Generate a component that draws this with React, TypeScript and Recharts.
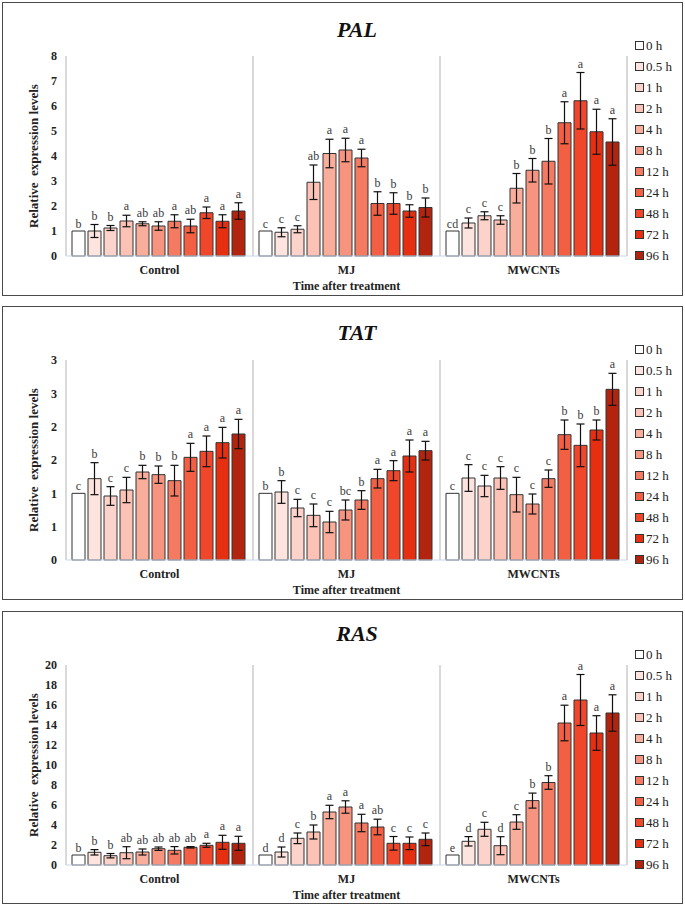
import React from "react";
import { BarChart, Bar, XAxis, YAxis, CartesianGrid, ErrorBar, Legend, LabelList } from "recharts";

const FONT = '"Liberation Serif", "Times New Roman", serif';

const categories = ["Control", "MJ", "MWCNTs"];
const timePoints = ["0 h", "0.5 h", "1 h", "2 h", "4 h", "8 h", "12 h", "24 h", "48 h", "72 h", "96 h"];
const barColors = ["#ffffff", "#fde4df", "#fcd3ca", "#fbc2b5", "#f9ae9c", "#f79480", "#f57a62", "#f35f42", "#f0462a", "#e62e10", "#b3240e"];

// PAL
const palControl = [1.0, 1.0, 1.12, 1.4, 1.29, 1.2, 1.39, 1.2, 1.73, 1.39, 1.8];
const palControlErr = [0, 0.26, 0.1, 0.23, 0.08, 0.17, 0.26, 0.27, 0.23, 0.26, 0.33];
const palControlSig = ["b", "b", "b", "a", "ab", "ab", "a", "ab", "a", "a", "a"];
const palMJ = [1.0, 0.95, 1.07, 2.95, 4.1, 4.24, 3.92, 2.1, 2.1, 1.8, 1.94];
const palMJErr = [0, 0.18, 0.14, 0.69, 0.57, 0.47, 0.35, 0.47, 0.43, 0.25, 0.38];
const palMJSig = ["c", "c", "c", "ab", "a", "a", "a", "b", "b", "b", "b"];
const palMW = [1.0, 1.32, 1.61, 1.44, 2.71, 3.43, 3.79, 5.33, 6.21, 4.97, 4.56];
const palMWErr = [0, 0.2, 0.16, 0.17, 0.59, 0.47, 0.91, 0.84, 1.13, 0.9, 0.93];
const palMWSig = ["cd", "c", "c", "c", "b", "b", "b", "a", "a", "a", "a"];
const palTicks = [0, 1, 2, 3, 4, 5, 6, 7, 8];
const palTickLabels = ["0", "1", "2", "3", "4", "5", "6", "7", "8"];

// TAT
const tatControl = [1.0, 1.22, 0.96, 1.05, 1.32, 1.28, 1.19, 1.54, 1.63, 1.76, 1.89];
const tatControlErr = [0, 0.24, 0.14, 0.19, 0.1, 0.13, 0.23, 0.21, 0.23, 0.23, 0.22];
const tatControlSig = ["c", "b", "c", "c", "b", "b", "b", "a", "a", "a", "a"];
const tatMJ = [1.0, 1.02, 0.78, 0.67, 0.57, 0.75, 0.9, 1.22, 1.34, 1.56, 1.64];
const tatMJErr = [0, 0.17, 0.13, 0.17, 0.16, 0.15, 0.14, 0.14, 0.15, 0.24, 0.14];
const tatMJSig = ["b", "b", "c", "c", "c", "bc", "b", "a", "a", "a", "a"];
const tatMW = [1.0, 1.23, 1.11, 1.23, 0.98, 0.84, 1.22, 1.88, 1.72, 1.95, 2.56];
const tatMWErr = [0, 0.2, 0.16, 0.17, 0.26, 0.15, 0.13, 0.22, 0.32, 0.15, 0.24];
const tatMWSig = ["c", "c", "c", "c", "c", "c", "c", "b", "b", "b", "a"];
const tatTicks = [0, 0.5, 1, 1.5, 2, 2.5, 3];
const tatTickLabels = ["0", "1", "1", "2", "2", "3", "3"];

// RAS
const rasControl = [1.0, 1.27, 0.93, 1.23, 1.3, 1.63, 1.47, 1.77, 1.97, 2.27, 2.17];
const rasControlErr = [0, 0.27, 0.22, 0.6, 0.3, 0.17, 0.37, 0.07, 0.2, 0.7, 0.7];
const rasControlSig = ["b", "b", "b", "ab", "ab", "ab", "ab", "ab", "a", "a", "a"];
const rasMJ = [1.0, 1.3, 2.67, 3.3, 5.3, 5.8, 4.2, 3.8, 2.17, 2.17, 2.57];
const rasMJErr = [0, 0.5, 0.53, 0.7, 0.67, 0.62, 0.87, 0.78, 0.68, 0.63, 0.63];
const rasMJSig = ["d", "d", "c", "b", "a", "a", "a", "ab", "c", "c", "c"];
const rasMW = [1.0, 2.37, 3.57, 1.93, 4.3, 6.44, 8.25, 14.2, 16.5, 13.2, 15.2];
const rasMWErr = [0, 0.47, 0.7, 0.9, 0.73, 0.75, 0.68, 1.78, 2.55, 1.73, 1.82];
const rasMWSig = ["e", "d", "c", "d", "c", "b", "b", "a", "a", "a", "a"];
const rasTicks = [0, 2, 4, 6, 8, 10, 12, 14, 16, 18, 20];
const rasTickLabels = ["0", "2", "4", "6", "8", "10", "12", "14", "16", "18", "20"];

const yAxisTitle = "Relative  expression levels";
const xAxisTitle = "Time after treatment";

type PanelDef = {
  title: string;
  values: number[][];
  errors: number[][];
  sigs: string[][];
  ticks: number[];
  tickLabels: string[];
  top: number;
  height: number;
  titleY: number;
};

const panels: PanelDef[] = [
  {
    title: "PAL",
    values: [palControl, palMJ, palMW],
    errors: [palControlErr, palMJErr, palMWErr],
    sigs: [palControlSig, palMJSig, palMWSig],
    ticks: palTicks,
    tickLabels: palTickLabels,
    top: 2,
    height: 294,
    titleY: 28,
  },
  {
    title: "TAT",
    values: [tatControl, tatMJ, tatMW],
    errors: [tatControlErr, tatMJErr, tatMWErr],
    sigs: [tatControlSig, tatMJSig, tatMWSig],
    ticks: tatTicks,
    tickLabels: tatTickLabels,
    top: 306,
    height: 294,
    titleY: 27,
  },
  {
    title: "RAS",
    values: [rasControl, rasMJ, rasMW],
    errors: [rasControlErr, rasMJErr, rasMWErr],
    sigs: [rasControlSig, rasMJSig, rasMWSig],
    ticks: rasTicks,
    tickLabels: rasTickLabels,
    top: 611,
    height: 293,
    titleY: 23,
  },
];

function buildRows(p: PanelDef) {
  return categories.map((c, g) => {
    const row: any = { group: c };
    timePoints.forEach((_, i) => {
      row[`v${i}`] = p.values[g][i];
      row[`e${i}`] = p.errors[g][i];
      row[`s${i}`] = p.sigs[g][i];
    });
    return row;
  });
}

const makeLetter = (rows: any[], i: number) => (props: any) => {
  const vb = props.viewBox || {};
  const x = props.x ?? vb.x;
  const y = props.y ?? vb.y;
  const width = props.width ?? vb.width;
  const height = props.height ?? vb.height;
  const idx = props.index;
  const row = rows[idx];
  if (!row || x == null || y == null) return null;
  const v = row[`v${i}`];
  const e = row[`e${i}`];
  const ppu = v ? height / v : 0;
  const top = y - e * ppu;
  return (
    <text
      x={x + width / 2}
      y={top - (e > 0 ? 5 : 3)}
      textAnchor="middle"
      fontSize={12}
      fontFamily={FONT}
      fill="#3a3a3a"
    >
      {row[`s${i}`]}
    </text>
  );
};

const groupBoundaries = (args: any) => {
  const offset = args.offset;
  const n = categories.length;
  return Array.from({ length: n + 1 }, (_, k) => offset.left + (offset.width * k) / n);
};

const renderLegend = () => (
  <div style={{ fontFamily: FONT, fontSize: 13, color: "#222", lineHeight: "21px" }}>
    {timePoints.map((t, i) => (
      <div key={t} style={{ height: 21, display: "flex", alignItems: "center", whiteSpace: "nowrap" }}>
        <span
          style={{
            width: 7,
            height: 7,
            border: "1px solid #333",
            background: barColors[i],
            marginRight: 2,
            display: "inline-block",
          }}
        />
        <span>{t}</span>
      </div>
    ))}
  </div>
);

function Panel({ p }: { p: PanelDef }) {
  const rows = buildRows(p);
  const max = p.ticks[p.ticks.length - 1];
  return (
    <>
      <div
        style={{
          position: "absolute",
          left: 2,
          top: p.top,
          width: 681,
          height: p.height,
          boxSizing: "border-box",
          border: "1px solid #4a4a4a",
        }}
      />
      <div
        style={{
          position: "absolute",
          left: 257,
          width: 200,
          top: p.top + p.titleY - 14,
          height: 28,
          lineHeight: "28px",
          textAlign: "center",
          fontFamily: FONT,
          fontWeight: "bold",
          fontStyle: "italic",
          fontSize: 22,
          color: "#111",
        }}
      >
        {p.title}
      </div>
      <div style={{ position: "absolute", left: 0, top: p.top, width: 685, height: 294 }}>
        <BarChart
          width={685}
          height={294}
          data={rows}
          margin={{ top: 54, right: 58, bottom: 0, left: 22 }}
          barCategoryGap={6}
          barGap={3}
        >
          <CartesianGrid horizontal={false} vertical stroke="#b3b3b3" verticalCoordinatesGenerator={groupBoundaries} />
          <XAxis
            dataKey="group"
            type="category"
            interval={0}
            height={40}
            tickLine={false}
            tickSize={0}
            tickMargin={9}
            axisLine={{ stroke: "#c8d6ea" }}
            tick={{ fontSize: 12, fontWeight: "bold", fill: "#222", fontFamily: FONT }}
            label={{
              content: (lp: any) => {
                const vb = lp.viewBox;
                return (
                  <text
                    x={vb.x + vb.width / 2}
                    y={vb.y + 34}
                    textAnchor="middle"
                    fontSize={12}
                    fontWeight="bold"
                    fontFamily={FONT}
                    fill="#222"
                  >
                    {xAxisTitle}
                  </text>
                );
              },
            }}
          />
          <YAxis
            width={44}
            domain={[0, max]}
            ticks={p.ticks}
            interval={0}
            axisLine={false}
            tickLine={false}
            tickSize={0}
            tickMargin={9}
            tickFormatter={(v: number, idx: number) => p.tickLabels[idx] ?? String(v)}
            tick={{ fontSize: 12, fontWeight: "bold", fill: "#222", fontFamily: FONT }}
            label={{
              content: (lp: any) => {
                const vb = lp.viewBox;
                const cx = vb.x + 11;
                const cy = vb.y + vb.height / 2;
                return (
                  <text
                    x={cx}
                    y={cy}
                    transform={`rotate(-90 ${cx} ${cy})`}
                    textAnchor="middle"
                    dominantBaseline="central"
                    fontSize={13}
                    fontWeight="bold"
                    fontFamily={FONT}
                    fill="#222"
                    style={{ whiteSpace: "pre" }}
                  >
                    {yAxisTitle}
                  </text>
                );
              },
            }}
          />
          <Legend
            layout="vertical"
            align="center"
            verticalAlign="middle"
            content={renderLegend}
            wrapperStyle={{ left: 635, top: 33, width: 49, height: 231 }}
          />
          {timePoints.map((t, i) => {
            const hasErr = p.errors.some((arr) => arr[i] > 0);
            return (
              <Bar
                key={t}
                name={t}
                dataKey={`v${i}`}
                fill={barColors[i]}
                stroke="#333"
                strokeWidth={1}
                isAnimationActive={false}
              >
                {hasErr && (
                  <ErrorBar dataKey={`e${i}`} direction="y" width={4} stroke="#111" strokeWidth={1.2} />
                )}
                <LabelList dataKey={`s${i}`} content={makeLetter(rows, i)} />
              </Bar>
            );
          })}
        </BarChart>
      </div>
    </>
  );
}

export default function App() {
  return (
    <div style={{ position: "absolute", left: 0, top: 0, width: 685, height: 906, background: "#fff" }}>
      {panels.map((p) => (
        <Panel key={p.title} p={p} />
      ))}
    </div>
  );
}
